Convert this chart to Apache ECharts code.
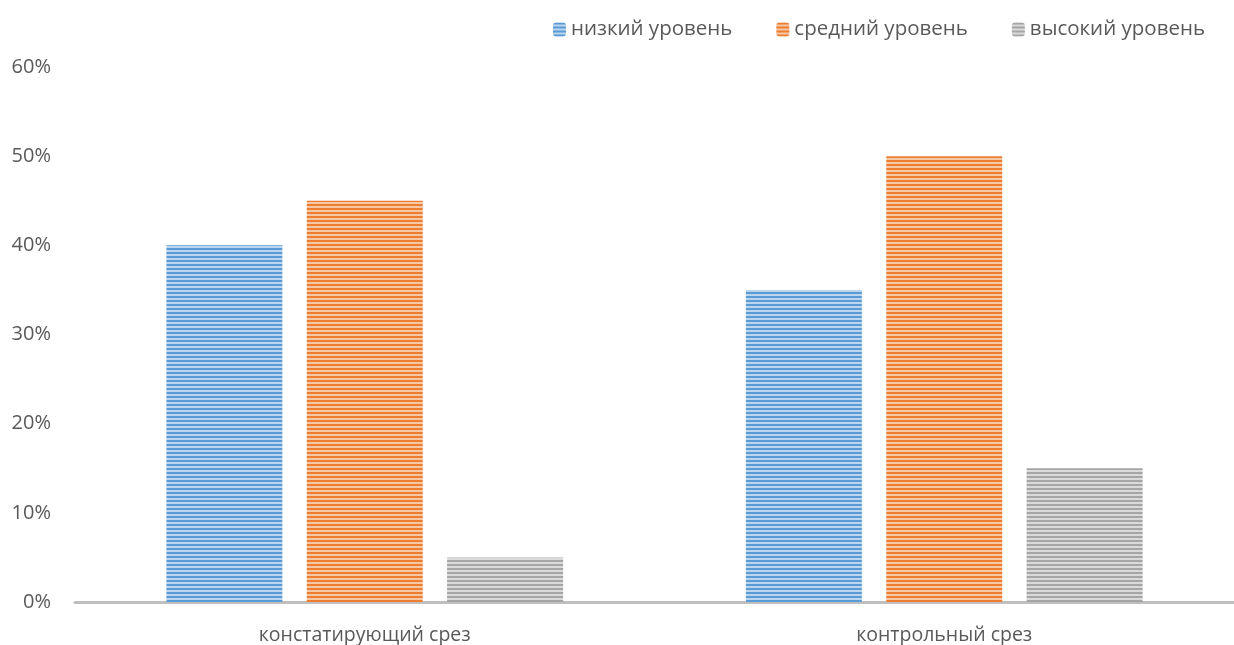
<!DOCTYPE html>
<html><head><meta charset="utf-8">
<script src="https://cdn.jsdelivr.net/npm/echarts@6/dist/echarts.min.js"></script>
<style>html,body{margin:0;padding:0;background:#fff}#c{width:1234px;height:645px}</style>
</head><body><div id="c"></div>
<script>
const categories = ['констатирующий срез', 'контрольный срез'];
const seriesNames = ['низкий уровень', 'средний уровень', 'высокий уровень'];
const lowValues = [40, 35];
const midValues = [45, 50];
const highValues = [5, 15];
const yTicks = [0, 10, 20, 30, 40, 50, 60];

function stripe(dark, light) {
  const c = document.createElement('canvas');
  c.width = 4; c.height = 4;
  const g = c.getContext('2d');
  g.fillStyle = light; g.fillRect(0, 0, 4, 4);
  g.fillStyle = dark; g.fillRect(0, 0, 4, 2);
  return { image: c, repeat: 'repeat' };
}
const fills = [stripe('#5b9bd5', '#bcd5ee'), stripe('#ed7d31', '#f7c8a6'), stripe('#a5a5a5', '#dadada')];
const data = [lowValues, midValues, highValues];
const font = '"Open Sans", sans-serif';

const chart = echarts.init(document.getElementById('c'));
chart.setOption({
  animation: false,
  legend: {
    top: 14, right: 24, itemWidth: 13, itemHeight: 14, itemGap: 44,
    textStyle: { fontFamily: font, fontSize: 20.5, color: '#595959' },
    data: seriesNames
  },
  grid: { left: 75, width: 1180, top: 67, bottom: 37, containLabel: false },
  xAxis: {
    type: 'category', data: categories,
    axisLine: { lineStyle: { color: '#bfbfbf', width: 3 } },
    axisTick: { show: false },
    axisLabel: { fontFamily: font, fontSize: 19.5, color: '#595959', margin: 23 }
  },
  yAxis: {
    type: 'value', min: yTicks[0], max: yTicks[yTicks.length - 1], interval: 10,
    axisLine: { show: false }, axisTick: { show: false },
    splitLine: { show: false },
    axisLabel: { fontFamily: font, fontSize: 20, color: '#595959', margin: 24, formatter: v => v + '%' }
  },
  series: seriesNames.map((n, i) => ({
    name: n, type: 'bar', data: data[i], barWidth: 116, barGap: '21%',
    itemStyle: { color: fills[i] }
  }))
});
</script></body></html>
